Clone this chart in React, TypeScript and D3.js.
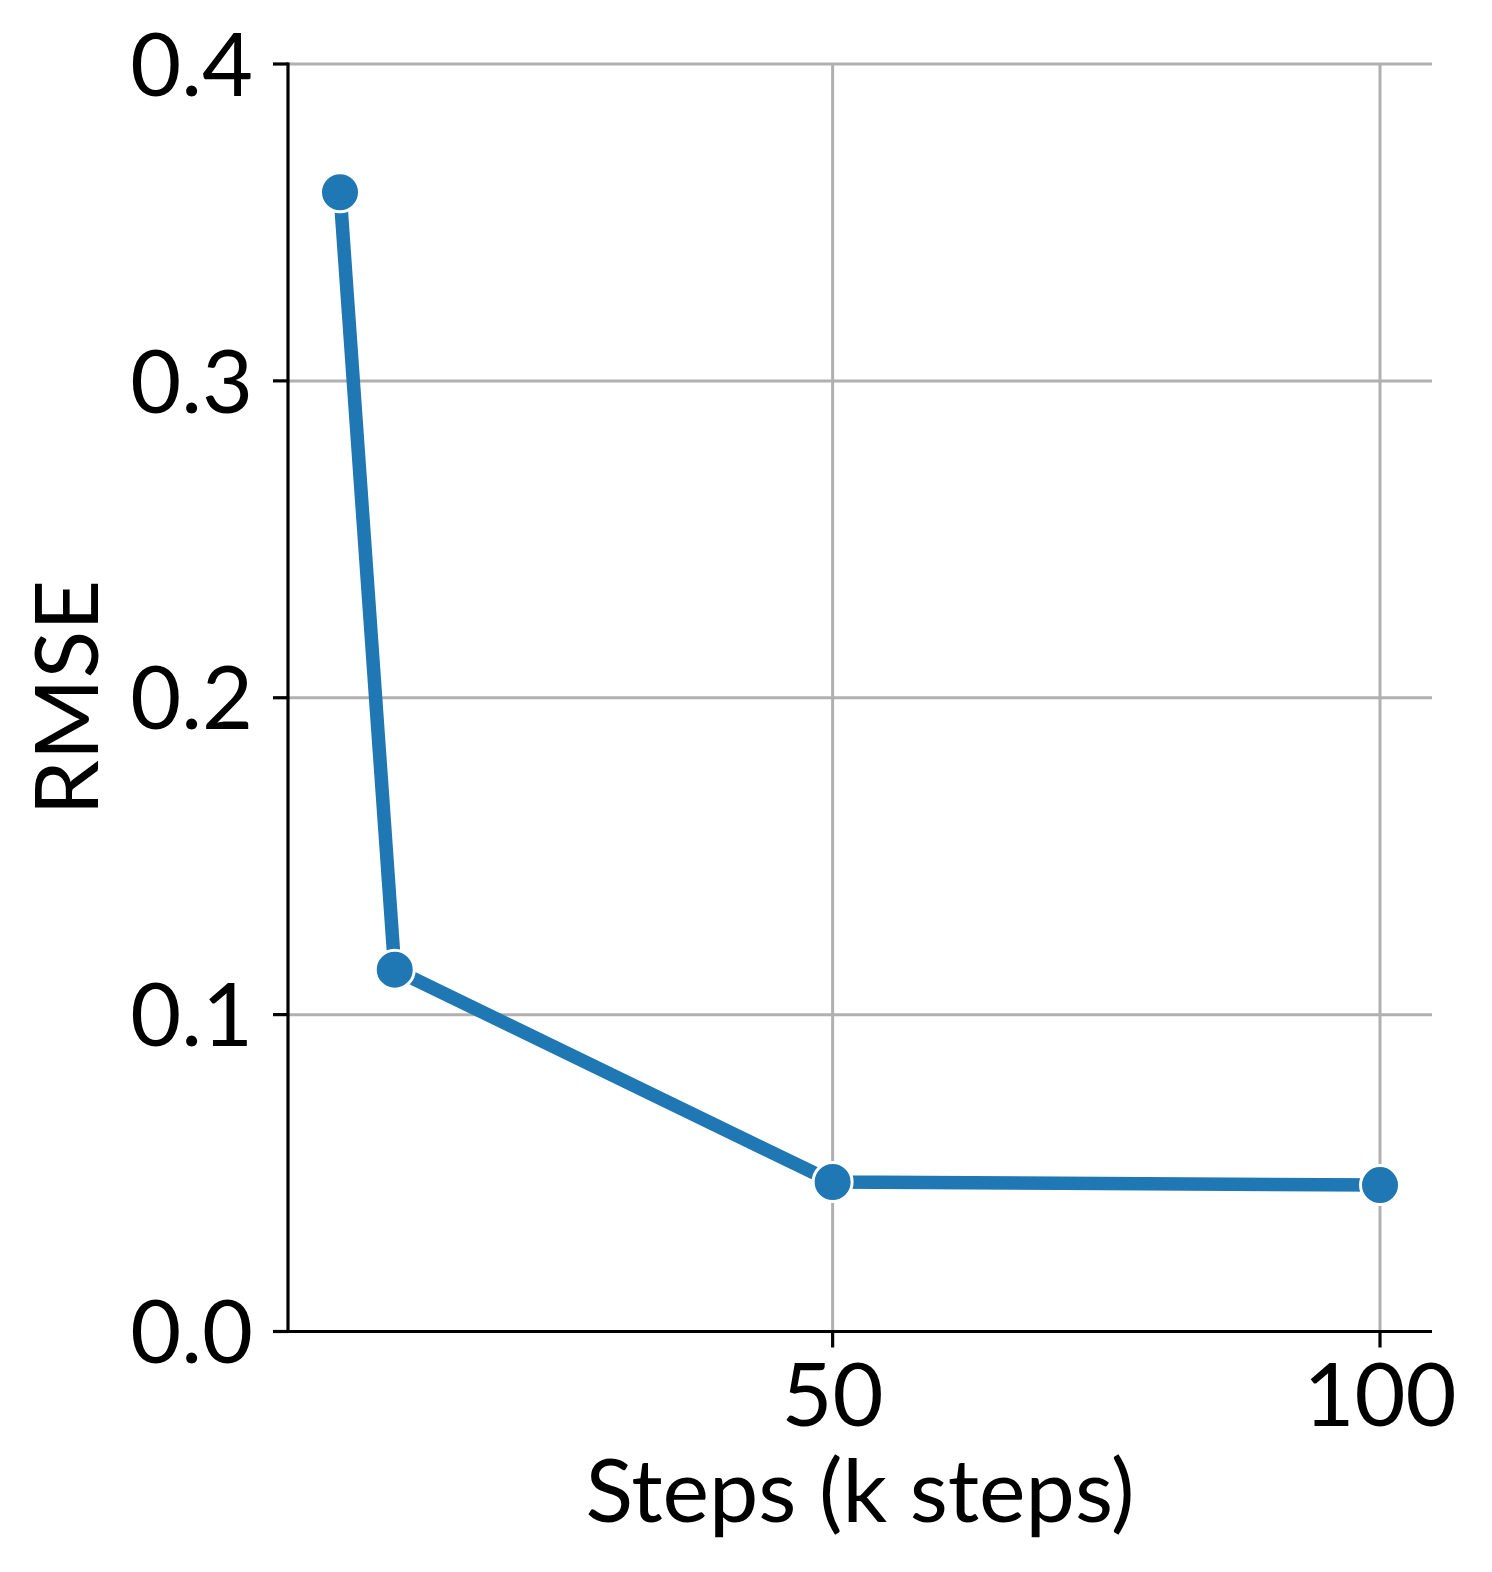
import React from "react";
import * as d3 from "d3";

const steps = [5, 10, 50, 100];
const rmse = [0.3595, 0.1142, 0.0472, 0.0462];
const xTicks = [50, 100];
const yTicks = [0.0, 0.1, 0.2, 0.3, 0.4];
const xLabel = "Steps (k steps)";
const yLabel = "RMSE";

const W = 1492;
const H = 1572;
const M = { left: 288, right: 1432, top: 64, bottom: 1331.5 };
const FONT = "Lato, 'Noto Sans', 'DejaVu Sans', sans-serif";
const BLUE = "#1f77b4";

export default function App() {
  const x = d3.scaleLinear().domain([0.25, 104.75]).range([M.left, M.right]);
  const y = d3.scaleLinear().domain([0, 0.4]).range([M.bottom, M.top]);
  const pts = steps.map((s, i) => [x(s), y(rmse[i])] as [number, number]);
  const line = d3.line()(pts) || "";
  return (
    <svg width={W} height={H} style={{ display: "block", position: "absolute", left: 0, top: 0 }} fontFamily={FONT}>
      <rect width={W} height={H} fill="white" />
      {yTicks.map((t) => (
        <line key={"gy" + t} x1={M.left} x2={M.right} y1={y(t)} y2={y(t)} stroke="#b0b0b0" strokeWidth={3} />
      ))}
      {xTicks.map((t) => (
        <line key={"gx" + t} x1={x(t)} x2={x(t)} y1={M.top} y2={M.bottom} stroke="#b0b0b0" strokeWidth={3} />
      ))}
      <path d={line} fill="none" stroke={BLUE} strokeWidth={13.5} strokeLinejoin="round" />
      {pts.map((p, i) => (
        <circle key={i} cx={p[0]} cy={p[1]} r={19.5} fill={BLUE} stroke="white" strokeWidth={3} />
      ))}
      <line x1={M.left} x2={M.left} y1={M.top - 1.5} y2={M.bottom + 1.5} stroke="black" strokeWidth={3.2} />
      <line x1={M.left - 1.5} x2={M.right} y1={M.bottom} y2={M.bottom} stroke="black" strokeWidth={3.2} />
      {yTicks.map((t) => (
        <g key={"ty" + t}>
          <line x1={M.left - 15} x2={M.left} y1={y(t)} y2={y(t)} stroke="black" strokeWidth={3.2} />
          <text x={253} y={y(t)} dy="0.36em" textAnchor="end" fontSize={88} fill="black">
            {d3.format(".1f")(t)}
          </text>
        </g>
      ))}
      {xTicks.map((t) => (
        <g key={"tx" + t}>
          <line x1={x(t)} x2={x(t)} y1={M.bottom} y2={M.bottom + 16} stroke="black" strokeWidth={3.2} />
          <text x={x(t)} y={1426} textAnchor="middle" fontSize={88} fill="black">
            {t}
          </text>
        </g>
      ))}
      <text x={860} y={1522} textAnchor="middle" fontSize={88} fill="black">
        {xLabel}
      </text>
      <text
        transform={`translate(98, ${(M.top + M.bottom) / 2}) rotate(-90)`}
        textAnchor="middle"
        fontSize={88}
        fill="black"
      >
        {yLabel}
      </text>
    </svg>
  );
}
